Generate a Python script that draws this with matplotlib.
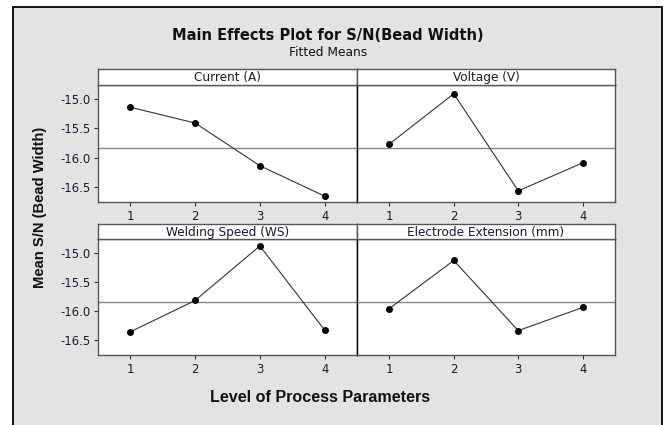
import matplotlib
matplotlib.use("Agg")
import matplotlib.pyplot as plt
from matplotlib.patches import Rectangle
import numpy as np

# Fitted mean S/N ratios for each factor level
levels = [1, 2, 3, 4]
factors = ["Current (A)", "Voltage (V)", "Welding Speed (WS)", "Electrode Extension (mm)"]
current_sn = [-15.14, -15.41, -16.14, -16.66]
voltage_sn = [-15.77, -14.91, -16.57, -16.09]
speed_sn = [-16.36, -15.82, -14.88, -16.33]
extension_sn = [-15.96, -15.13, -16.34, -15.94]
series = [current_sn, voltage_sn, speed_sn, extension_sn]
y_ticks = [-15.0, -15.5, -16.0, -16.5]

grand_mean = np.mean(current_sn + voltage_sn + speed_sn + extension_sn)

W, H = 669, 425
fig = plt.figure(figsize=(W / 100, H / 100), dpi=100)
fig.patch.set_facecolor("white")

# grey graph region with black frame
fig.patches.append(Rectangle((13 / W, -0.02), (662 - 13) / W, 1 - 7 / H + 0.02,
                             transform=fig.transFigure, facecolor="#e3e3e3",
                             edgecolor="black", linewidth=1.3, zorder=-10))

tick_font = dict(family="DejaVu Sans", size=8.4, color="#1a1a2a")
frame_color = "#555555"

x_edges = [98, 357, 615]
rows = [(85, 202, 69), (239, 355, 224)]  # (axes top, axes bottom, strip top) in px

for i, (vals, name) in enumerate(zip(series, factors)):
    r, c = divmod(i, 2)
    top, bot, strip_top = rows[r]
    x0, x1 = x_edges[c], x_edges[c + 1]
    ax = fig.add_axes([x0 / W, 1 - bot / H, (x1 - x0) / W, (bot - top) / H])
    ax.set_facecolor("white")
    ax.plot(levels, vals, color="#333333", linewidth=0.8, marker="o",
            markersize=4, markerfacecolor="black", markeredgecolor="black", zorder=3)
    ax.axhline(grand_mean, color="#888888", linewidth=1.0, zorder=2)
    ax.set_xlim(0.5, 4.5)
    ax.set_ylim(-16.76, -14.76)
    ax.set_xticks(levels)
    ax.set_xticklabels([str(v) for v in levels], fontdict=tick_font)
    ax.set_yticks(y_ticks)
    if c == 0:
        ax.set_yticklabels([f"{v:.1f}" for v in y_ticks], fontdict=tick_font)
    else:
        ax.tick_params(axis="y", left=False, labelleft=False)
    ax.tick_params(direction="out", length=3, width=0.8, color="#333333", pad=2.5)
    for side, sp in ax.spines.items():
        sp.set_color(frame_color)
        sp.set_linewidth(1.0)
    if c == 0:
        ax.spines["right"].set_color("black")
    else:
        ax.spines["left"].set_color("black")

    # factor name strip
    sax = fig.add_axes([x0 / W, 1 - top / H, (x1 - x0) / W, (top - strip_top) / H])
    sax.set_facecolor("white")
    sax.set_xticks([])
    sax.set_yticks([])
    for sp in sax.spines.values():
        sp.set_color(frame_color)
        sp.set_linewidth(1.0)
    sax.text(0.5, 0.45, name, ha="center", va="center", transform=sax.transAxes,
             family="DejaVu Sans", size=8.7, color="#1a1a2e")

fig.text(328 / W, 1 - 35 / H, "Main Effects Plot for S/N(Bead Width)", ha="center",
         va="center", family="DejaVu Sans", weight="bold", size=10.5, color="#111111")
fig.text(328 / W, 1 - 53 / H, "Fitted Means", ha="center", va="center",
         family="DejaVu Sans", size=8.8, color="#111111")
fig.text(320 / W, 1 - 397 / H, "Level of Process Parameters", ha="center", va="center",
         family="Liberation Sans", weight="bold", size=11.6, color="#111111")
fig.text(40 / W, 1 - 207 / H, "Mean S/N (Bead Width)", ha="center", va="center",
         rotation=90, family="Liberation Sans", weight="bold", size=10.6, color="#111111")

fig.savefig("out.png", dpi=100, facecolor="white")
